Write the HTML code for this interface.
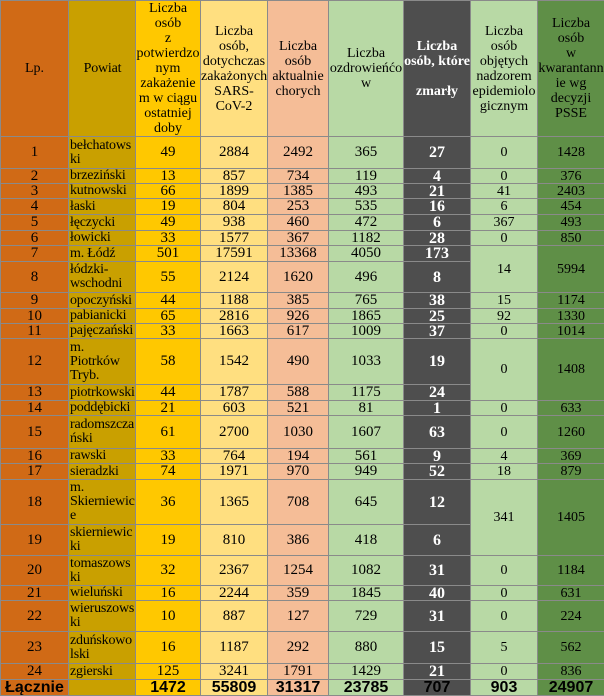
<!DOCTYPE html>
<html><head><meta charset="utf-8"><style>
html,body{margin:0;padding:0;background:#fff;overflow:hidden;}
table{border-collapse:collapse;table-layout:fixed;width:604px;font-family:"Liberation Serif",serif;font-size:15px;color:#000;}
td{border:1px solid #8a8a8a;padding:0;text-align:center;vertical-align:middle;line-height:13px;overflow:hidden;white-space:nowrap;}
.a{background:#d06a16;}
.b{background:#c9a000;text-align:left;padding-left:1px;line-height:14px;font-size:14px;letter-spacing:-0.2px;}
.c{background:#ffc800;}
.d{background:#ffdf80;}
.e{background:#f5bd97;}
.f{background:#b8d9a5;}
.g{background:#4e4e4e;color:#fff;font-weight:bold;font-size:16px;}
.h{background:#b8d9a5;font-size:14px;}
.i{background:#5f8f47;font-size:14px;}
thead td{font-size:14px;line-height:15px;}
thead td.b{text-align:center;}
thead td.g{font-size:14px;}
.t td{font-family:"Liberation Sans",sans-serif;font-weight:bold;font-size:16px;}
.t td.g{color:#000;}
</style></head><body>
<table>
<colgroup><col style="width:68px"><col style="width:67px"><col style="width:65px"><col style="width:67px"><col style="width:61px"><col style="width:75px"><col style="width:67px"><col style="width:67px"><col style="width:67px"></colgroup>
<thead><tr style="height:135px">
<td class="a">Lp.</td><td class="b">Powiat</td>
<td class="c">Liczba<br>osób<br>z<br>potwierdzo<br>nym<br>zakażenie<br>m w ciągu<br>ostatniej<br>doby</td>
<td class="d">Liczba<br>osób,<br>dotychczas<br>zakażonych<br>SARS-<br>CoV-2</td>
<td class="e">Liczba<br>osób<br>aktualnie<br>chorych</td>
<td class="f">Liczba<br>ozdrowieńćo<br>w</td>
<td class="g">Liczba<br>osób, które<br><br>zmarły</td>
<td class="h">Liczba<br>osób<br>objętych<br>nadzorem<br>epidemiolo<br>gicznym</td>
<td class="i">Liczba<br>osób<br>w<br>kwarantann<br>ie wg<br>decyzji<br>PSSE</td>
</tr></thead>
<tbody>
<tr style="height:32px"><td class="a">1</td><td class="b">bełchatows<br>ki</td><td class="c">49</td><td class="d">2884</td><td class="e">2492</td><td class="f">365</td><td class="g">27</td><td class="h">0</td><td class="i">1428</td></tr>
<tr style="height:15px"><td class="a">2</td><td class="b">brzeziński</td><td class="c">13</td><td class="d">857</td><td class="e">734</td><td class="f">119</td><td class="g">4</td><td class="h">0</td><td class="i">376</td></tr>
<tr style="height:15px"><td class="a">3</td><td class="b">kutnowski</td><td class="c">66</td><td class="d">1899</td><td class="e">1385</td><td class="f">493</td><td class="g">21</td><td class="h">41</td><td class="i">2403</td></tr>
<tr style="height:16px"><td class="a">4</td><td class="b">łaski</td><td class="c">19</td><td class="d">804</td><td class="e">253</td><td class="f">535</td><td class="g">16</td><td class="h">6</td><td class="i">454</td></tr>
<tr style="height:16px"><td class="a">5</td><td class="b">łęczycki</td><td class="c">49</td><td class="d">938</td><td class="e">460</td><td class="f">472</td><td class="g">6</td><td class="h">367</td><td class="i">493</td></tr>
<tr style="height:15px"><td class="a">6</td><td class="b">łowicki</td><td class="c">33</td><td class="d">1577</td><td class="e">367</td><td class="f">1182</td><td class="g">28</td><td class="h">0</td><td class="i">850</td></tr>
<tr style="height:16px"><td class="a">7</td><td class="b">m. Łódź</td><td class="c">501</td><td class="d">17591</td><td class="e">13368</td><td class="f">4050</td><td class="g">173</td><td class="h" rowspan="2">14</td><td class="i" rowspan="2">5994</td></tr>
<tr style="height:31px"><td class="a">8</td><td class="b">łódzki-<br>wschodni</td><td class="c">55</td><td class="d">2124</td><td class="e">1620</td><td class="f">496</td><td class="g">8</td></tr>
<tr style="height:16px"><td class="a">9</td><td class="b">opoczyński</td><td class="c">44</td><td class="d">1188</td><td class="e">385</td><td class="f">765</td><td class="g">38</td><td class="h">15</td><td class="i">1174</td></tr>
<tr style="height:15px"><td class="a">10</td><td class="b">pabianicki</td><td class="c">65</td><td class="d">2816</td><td class="e">926</td><td class="f">1865</td><td class="g">25</td><td class="h">92</td><td class="i">1330</td></tr>
<tr style="height:15px"><td class="a">11</td><td class="b">pajęczański</td><td class="c">33</td><td class="d">1663</td><td class="e">617</td><td class="f">1009</td><td class="g">37</td><td class="h">0</td><td class="i">1014</td></tr>
<tr style="height:46px"><td class="a">12</td><td class="b">m.<br>Piotrków<br>Tryb.</td><td class="c">58</td><td class="d">1542</td><td class="e">490</td><td class="f">1033</td><td class="g">19</td><td class="h" rowspan="2">0</td><td class="i" rowspan="2">1408</td></tr>
<tr style="height:16px"><td class="a">13</td><td class="b">piotrkowski</td><td class="c">44</td><td class="d">1787</td><td class="e">588</td><td class="f">1175</td><td class="g">24</td></tr>
<tr style="height:15px"><td class="a">14</td><td class="b">poddębicki</td><td class="c">21</td><td class="d">603</td><td class="e">521</td><td class="f">81</td><td class="g">1</td><td class="h">0</td><td class="i">633</td></tr>
<tr style="height:33px"><td class="a">15</td><td class="b">radomszcza<br>ński</td><td class="c">61</td><td class="d">2700</td><td class="e">1030</td><td class="f">1607</td><td class="g">63</td><td class="h">0</td><td class="i">1260</td></tr>
<tr style="height:14px"><td class="a">16</td><td class="b">rawski</td><td class="c">33</td><td class="d">764</td><td class="e">194</td><td class="f">561</td><td class="g">9</td><td class="h">4</td><td class="i">369</td></tr>
<tr style="height:16px"><td class="a">17</td><td class="b">sieradzki</td><td class="c">74</td><td class="d">1971</td><td class="e">970</td><td class="f">949</td><td class="g">52</td><td class="h">18</td><td class="i">879</td></tr>
<tr style="height:45px"><td class="a">18</td><td class="b">m.<br>Skierniewic<br>e</td><td class="c">36</td><td class="d">1365</td><td class="e">708</td><td class="f">645</td><td class="g">12</td><td class="h" rowspan="2">341</td><td class="i" rowspan="2">1405</td></tr>
<tr style="height:31px"><td class="a">19</td><td class="b">skierniewic<br>ki</td><td class="c">19</td><td class="d">810</td><td class="e">386</td><td class="f">418</td><td class="g">6</td></tr>
<tr style="height:30px"><td class="a">20</td><td class="b">tomaszows<br>ki</td><td class="c">32</td><td class="d">2367</td><td class="e">1254</td><td class="f">1082</td><td class="g">31</td><td class="h">0</td><td class="i">1184</td></tr>
<tr style="height:15px"><td class="a">21</td><td class="b">wieluński</td><td class="c">16</td><td class="d">2244</td><td class="e">359</td><td class="f">1845</td><td class="g">40</td><td class="h">0</td><td class="i">631</td></tr>
<tr style="height:31px"><td class="a">22</td><td class="b">wieruszows<br>ki</td><td class="c">10</td><td class="d">887</td><td class="e">127</td><td class="f">729</td><td class="g">31</td><td class="h">0</td><td class="i">224</td></tr>
<tr style="height:32px"><td class="a">23</td><td class="b">zduńskowo<br>lski</td><td class="c">16</td><td class="d">1187</td><td class="e">292</td><td class="f">880</td><td class="g">15</td><td class="h">5</td><td class="i">562</td></tr>
<tr style="height:16px"><td class="a">24</td><td class="b">zgierski</td><td class="c">125</td><td class="d">3241</td><td class="e">1791</td><td class="f">1429</td><td class="g">21</td><td class="h">0</td><td class="i">836</td></tr>
<tr class="t" style="height:16px"><td class="a">Łącznie</td><td class="b"></td><td class="c">1472</td><td class="d">55809</td><td class="e">31317</td><td class="f">23785</td><td class="g">707</td><td class="h">903</td><td class="i">24907</td></tr>
</tbody></table>
</body></html>
